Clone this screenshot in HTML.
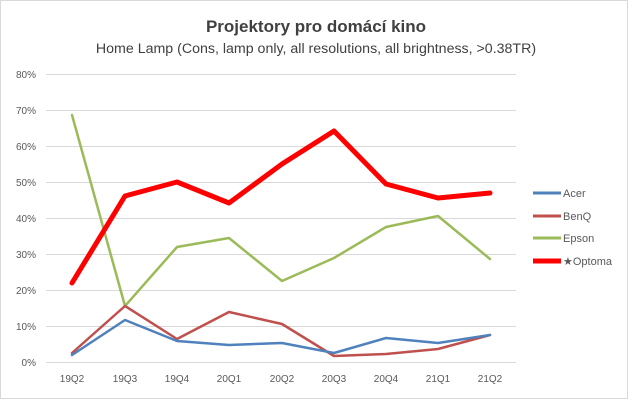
<!DOCTYPE html><html><head><style>body{margin:0;background:#fff}svg{display:block}text{font-family:"Liberation Sans",sans-serif}</style></head><body>
<svg width="632" height="400" viewBox="0 0 632 400">
<rect x="0.5" y="0.5" width="627" height="398" fill="#fff" stroke="#d9d9d9"/>
<text x="316" y="32" text-anchor="middle" font-size="17" font-weight="bold" fill="#404040">Projektory pro domácí kino</text>
<text x="316" y="53" text-anchor="middle" font-size="14.2" fill="#404040">Home Lamp (Cons, lamp only, all resolutions, all brightness, &gt;0.38TR)</text>
<g stroke="#d9d9d9" stroke-width="1">
<line x1="46" x2="516" y1="74.5" y2="74.5"/><line x1="46" x2="516" y1="110.5" y2="110.5"/><line x1="46" x2="516" y1="146.5" y2="146.5"/><line x1="46" x2="516" y1="182.5" y2="182.5"/><line x1="46" x2="516" y1="218.5" y2="218.5"/><line x1="46" x2="516" y1="254.5" y2="254.5"/><line x1="46" x2="516" y1="290.5" y2="290.5"/><line x1="46" x2="516" y1="326.5" y2="326.5"/><line x1="46" x2="516" y1="362.5" y2="362.5"/>
</g>
<g font-size="10" fill="#595959" text-anchor="end">
<text x="36" y="78">80%</text><text x="36" y="114">70%</text><text x="36" y="150">60%</text><text x="36" y="186">50%</text><text x="36" y="222">40%</text><text x="36" y="258">30%</text><text x="36" y="294">20%</text><text x="36" y="330">10%</text><text x="36" y="366">0%</text>
</g>
<g font-size="10" fill="#595959" text-anchor="middle">
<text x="72" y="382">19Q2</text><text x="125" y="382">19Q3</text><text x="177" y="382">19Q4</text><text x="229" y="382">20Q1</text><text x="282" y="382">20Q2</text><text x="334" y="382">20Q3</text><text x="386" y="382">20Q4</text><text x="438" y="382">21Q1</text><text x="490" y="382">21Q2</text>
</g>
<g fill="none" stroke-linejoin="round" stroke-linecap="round">
<polyline stroke="#9bbb59" stroke-width="2.5" points="72,115 125,306 177,247 229,238 282,281 334,258 386,227 438,216 490,259"/>
<polyline stroke="#c0504d" stroke-width="2.5" points="72,353 125,306 177,339 229,312 282,324 334,356 386,354 438,349 490,335"/>
<polyline stroke="#4f81bd" stroke-width="2.5" points="72,355 125,320 177,341 229,345 282,343 334,353 386,338 438,343 490,335"/>
<polyline stroke="#ff0000" stroke-width="5" points="72,283 125,196 177,182 229,203 282,164 334,131 386,184 438,198 490,193"/>
</g>
<g stroke-width="3"><line x1="533" x2="561" y1="193" y2="193" stroke="#4f81bd"/><line x1="533" x2="561" y1="216" y2="216" stroke="#c0504d"/><line x1="533" x2="561" y1="238" y2="238" stroke="#9bbb59"/><line x1="533" x2="561" y1="261" y2="261" stroke="#ff0000" stroke-width="5"/></g>
<g font-size="11" fill="#595959"><text x="563" y="197">Acer</text><text x="563" y="220">BenQ</text><text x="563" y="242">Epson</text><text x="563" y="265">★Optoma</text></g>
</svg></body></html>
